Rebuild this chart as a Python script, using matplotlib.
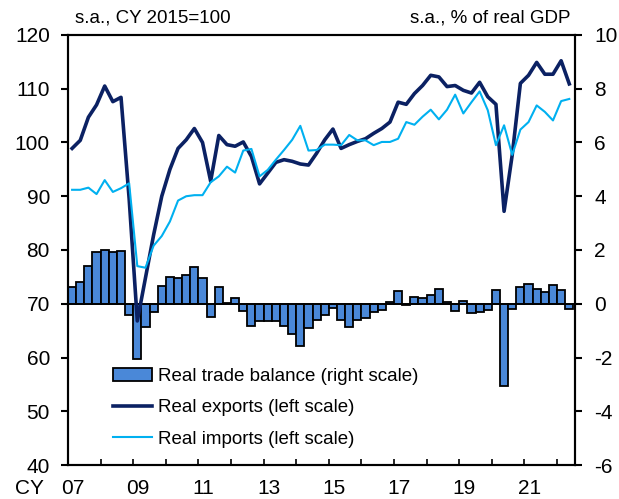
import numpy as np
import matplotlib.pyplot as plt

plt.rcParams['font.family'] = ['Liberation Sans', 'DejaVu Sans']
plt.rcParams['axes.unicode_minus'] = False

# quarterly data, 2007Q1 .. 2022Q2
start_year = 2007
exports = [98.9, 100.4, 104.7, 107.0, 110.5, 107.6, 108.4, 89.5, 66.8, 74.8,
           82.8, 90.0, 95.0, 98.9, 100.5, 102.6, 100.0, 92.8, 101.3, 99.6,
           99.3, 100.1, 97.4, 92.3, 94.3, 96.3, 96.8, 96.5, 96.0, 95.8,
           98.0, 100.5, 102.5, 98.9, 99.6, 100.2, 100.7, 101.7, 102.6, 103.8,
           107.5, 107.1, 109.1, 110.6, 112.5, 112.2, 110.4, 110.6, 109.7, 109.2,
           111.2, 108.5, 107.1, 87.2, 97.7, 111.0, 112.5, 114.9, 112.7, 112.7,
           115.2, 110.9]
imports = [91.2, 91.2, 91.6, 90.4, 93.0, 90.8, 91.5, 92.4, 77.0, 76.7,
           80.8, 82.6, 85.3, 89.2, 90.0, 90.2, 90.2, 92.6, 93.7, 95.5,
           94.4, 98.5, 98.8, 93.7, 94.9, 96.8, 98.6, 100.5, 103.1, 98.5,
           98.6, 99.6, 99.6, 99.5, 101.4, 100.4, 100.4, 99.5, 100.1, 100.1,
           100.7, 103.8, 103.3, 104.8, 106.1, 104.3, 106.1, 108.9, 105.4, 107.5,
           109.5, 106.0, 99.5, 103.2, 97.7, 102.4, 103.8, 106.9, 105.7, 104.1,
           107.7, 108.1]
trade_balance = [0.62, 0.81, 1.42, 1.91, 1.99, 1.93, 1.96, -0.43, -2.06, -0.87,
                 -0.31, 0.67, 0.98, 0.94, 1.07, 1.38, 0.96, -0.50, 0.63, 0.02,
                 0.21, -0.26, -0.81, -0.66, -0.63, -0.63, -0.84, -1.12, -1.57, -0.90,
                 -0.60, -0.41, -0.16, -0.60, -0.85, -0.60, -0.52, -0.29, -0.25, 0.06,
                 0.46, -0.06, 0.26, 0.21, 0.34, 0.55, 0.05, -0.26, 0.09, -0.35,
                 -0.29, -0.22, 0.50, -3.06, -0.19, 0.62, 0.74, 0.55, 0.42, 0.69,
                 0.51, -0.19]
year_labels = ['07', '09', '11', '13', '15', '17', '19', '21']

x = start_year + (np.arange(len(exports)) + 0.5) / 4

fig = plt.figure(figsize=(6.19, 4.99), dpi=100)
ax2 = fig.add_axes([0.1099, 0.0681, 0.819, 0.8618])   # right scale (bars)
ax = ax2.twinx()                                       # left scale (lines)
ax.yaxis.tick_left()
ax2.yaxis.tick_right()
ax.yaxis.set_label_position('left')

bars = ax2.bar(x, trade_balance, width=0.25, color='#4a88d8',
               edgecolor='black', linewidth=1.3, label='Real trade balance (right scale)')
l1, = ax.plot(x, exports, color='#0b2163', lw=2.6, label='Real exports (left scale)')
l2, = ax.plot(x, imports, color='#00b0f0', lw=1.5, label='Real imports (left scale)')
ax2.axhline(0, color='black', lw=1.2)

ax.set_ylim(40, 120)
ax.set_yticks(range(40, 121, 10))
ax2.set_ylim(-6, 10)
ax2.set_yticks(range(-6, 11, 2))
ax2.set_xlim(2007, 2022.55)

for a in (ax, ax2):
    for s in a.spines.values():
        s.set_linewidth(1.5)
ax.tick_params(axis='y', direction='out', length=5, width=1.5, labelsize=15, pad=8)
ax2.tick_params(axis='y', direction='out', length=5, width=1.5, labelsize=15, pad=9)

ax2.set_xticks(range(2007, 2023))
ax2.set_xticklabels([])
ax2.tick_params(axis='x', which='major', direction='in', length=4, width=1.2)
ax2.set_xticks([2007 + 2 * k + 0.15 for k in range(len(year_labels))], minor=True)
ax2.set_xticklabels(year_labels, minor=True)
ax2.tick_params(axis='x', which='minor', length=0, labelsize=15, pad=10)

fig.text(29.5 / 619, 1 - 489 / 499, 'CY', fontsize=15, ha='center', va='center')
fig.text(75 / 619, 1 - 18 / 499, 's.a., CY 2015=100', fontsize=13.5, ha='left', va='center')
fig.text(571 / 619, 1 - 18 / 499, 's.a., % of real GDP', fontsize=13.5, ha='right', va='center')

ax.legend([bars, l1, l2], [bars.get_label(), l1.get_label(), l2.get_label()],
          loc='upper left', bbox_to_anchor=(113 / 619, 1 - 368 / 499),
          bbox_transform=fig.transFigure, frameon=False, fontsize=13.5,
          handlelength=2.1, handletextpad=0.3, labelspacing=0.75, borderpad=0,
          borderaxespad=0)

plt.savefig('out.png', dpi=100)
